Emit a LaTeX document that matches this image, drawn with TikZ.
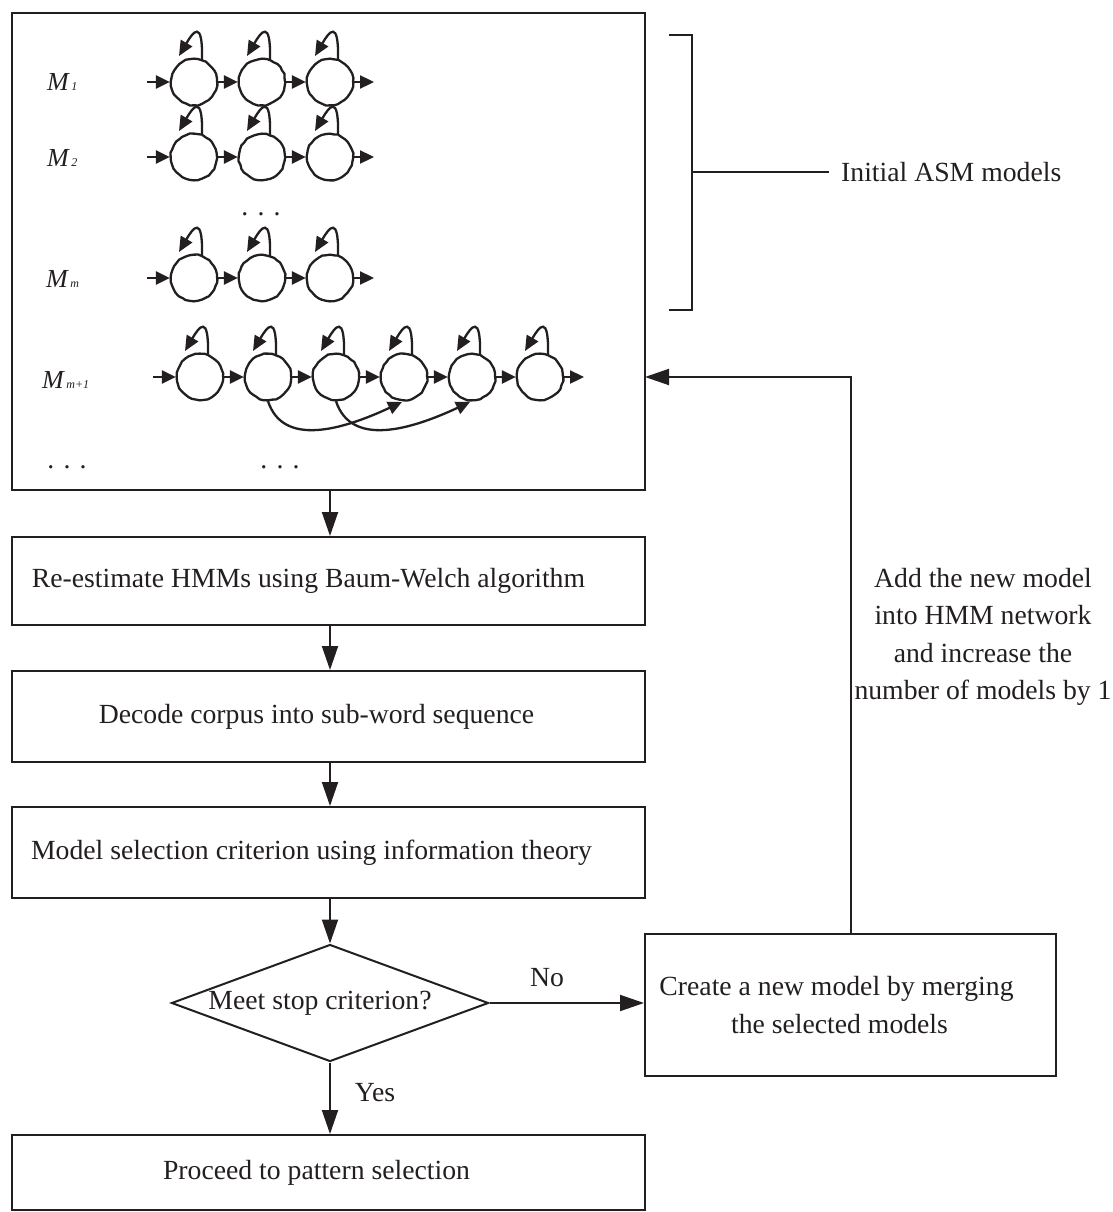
\documentclass[tikz,border=0pt]{standalone}
\usepackage{fontspec}
\setmainfont{Liberation Serif}
\usetikzlibrary{arrows.meta,shapes.geometric,decorations.pathmorphing,calc}
\definecolor{ink}{RGB}{35,31,32}
\newcommand{\mlabel}[1]{{\fontsize{26}{26}\selectfont\itshape M}\hspace{2.5pt}{\fontsize{12}{12}\selectfont\itshape #1}}
% shifts a centred line of text to the left by half of #1
\newcommand{\leftnudge}[2]{#2\hspace*{#1}}
\begin{document}
\begin{tikzpicture}[x=1pt,y=-1pt,
  every node/.style={text=ink},
  lbl/.style={font=\fontsize{27.7}{37.5}\selectfont},
  box/.style={draw=ink, line width=2pt, rectangle, minimum width=633pt, inner sep=0pt, lbl},
  flow/.style={draw=ink, line width=2pt, -{Triangle[length=24pt,width=16pt]}},
  st/.style={circle, draw=ink, line width=2.3pt, minimum size=46pt, inner sep=0pt,
    decorate, decoration={random steps, segment length=4pt, amplitude=0.5pt}},
  tr/.style={draw=ink, line width=2.3pt, -{Triangle[length=14pt,width=13pt]}},
  selfloop/.style={draw=ink, line width=2.3pt, -{Triangle[length=15pt,width=13pt]}},
]
\useasboundingbox (0,0) rectangle (1112,1212);
\pgfmathsetseed{7}

% outer box holding the model network
\node[box, minimum height=477pt] (top) at (328.5,251.5) {};

% model labels
\node[anchor=base west, inner sep=0pt] (m1) at (47,91) {\mlabel{1}};
\node[anchor=base west, inner sep=0pt] (m2) at (47,166) {\mlabel{2}};
\node[anchor=base west, inner sep=0pt] (mm) at (46,287) {\mlabel{m}};
\node[anchor=base west, inner sep=0pt] (mn) at (42,388) {\mlabel{m+1}};

% three-state left-to-right models
\foreach \r/\y in {a/82, b/157, c/278} {
  \foreach \i/\x in {1/194, 2/262, 3/330} {
    \node[st] (\r\i) at (\x,\y) {};
    \draw[selfloop] ($(\r\i)+(8,-22)$) .. controls +(1,-42) and +(14,-24) .. ($(\r\i)+(-15,-26)$);
  }
  \coordinate (\r-in) at (147,\y);
  \coordinate (\r-out) at (374,\y);
  \draw[tr] (\r-in) -- (\r1);
  \draw[tr] (\r1) -- (\r2);
  \draw[tr] (\r2) -- (\r3);
  \draw[tr] (\r3) -- (\r-out);
}

% merged model with skip transitions
\foreach \i/\x in {1/200, 2/268, 3/336, 4/404, 5/472, 6/540} {
  \node[st] (d\i) at (\x,377) {};
  \draw[selfloop] ($(d\i)+(8,-22)$) .. controls +(1,-42) and +(14,-24) .. ($(d\i)+(-15,-26)$);
}
\coordinate (d-in) at (153,377);
\coordinate (d-out) at (584,377);
\draw[tr] (d-in) -- (d1);
\foreach \a/\b in {1/2, 2/3, 3/4, 4/5, 5/6} { \draw[tr] (d\a) -- (d\b); }
\draw[tr] (d6) -- (d-out);
\draw[tr] (d2.south) .. controls +(15,46) and +(-60,28) .. ($(d4)+(-2,25)$);
\draw[tr] (d3.south) .. controls +(15,46) and +(-60,28) .. ($(d5)+(-2,25)$);

% ellipses
\node[lbl, anchor=base, inner sep=0pt] (dots1) at (261,215) {. . .};
\node[lbl, anchor=base, inner sep=0pt] (dots2) at (67,468) {. . .};
\node[lbl, anchor=base, inner sep=0pt] (dots3) at (280,468) {. . .};

% bracket for the initial models
\coordinate (bt) at (669,35);
\coordinate (bb) at (669,310);
\coordinate (bm) at (692,172);
\node[lbl, anchor=west, inner sep=0pt] (asm) at (841,172) {Initial ASM models};
\draw[ink, line width=2pt] (bt) -- (692,35) -- (692,310) -- (bb);
\draw[ink, line width=2pt] (bm) -- (asm.west -| 829,0);

% processing steps
\node[box, minimum height=88pt] (re) at (328.5,581) {\leftnudge{40pt}{Re-estimate HMMs using Baum-Welch algorithm}};
\node[box, minimum height=91pt] (dec) at (328.5,716.5) {\leftnudge{24pt}{Decode corpus into sub-word sequence}};
\node[box, minimum height=91pt] (sel) at (328.5,852.5) {\leftnudge{34pt}{Model selection criterion using information theory}};
\node[diamond, aspect=2.7, draw=ink, line width=2pt, minimum width=317pt, minimum height=117pt, inner sep=0pt, lbl] (dia) at (330,1003) {\leftnudge{20pt}{Meet stop criterion?}};
\node[box, minimum height=75pt] (pr) at (328.5,1172.5) {\leftnudge{24pt}{Proceed to pattern selection}};
\node[draw=ink, line width=2pt, minimum width=411pt, minimum height=142pt, inner sep=0pt, align=center, lbl] (cr) at (850.5,1005) {\leftnudge{28pt}{Create a new model by merging}\\\leftnudge{22pt}{the selected models}};

% connectors
\draw[flow] (top.south -| dia.north) -- (re.north -| dia.north);
\draw[flow] (re.south -| dia.north) -- (dec.north -| dia.north);
\draw[flow] (dec.south -| dia.north) -- (sel.north -| dia.north);
\draw[flow] (sel.south -| dia.north) -- (dia.north);
\draw[flow] (dia.south) -- (pr.north -| dia.south);
\draw[flow] (dia.east) -- (dia.east -| cr.west);
\coordinate (fb) at (645,377);
\draw[flow] (cr.north) |- (fb);

\node[lbl] (no) at (547,978) {No};
\node[lbl] (yes) at (375,1093) {Yes};
\node[lbl, align=center] (addtxt) at (983,637) {Add the new model\\into HMM network\\and increase the\\number of models by 1};
\end{tikzpicture}
\end{document}
